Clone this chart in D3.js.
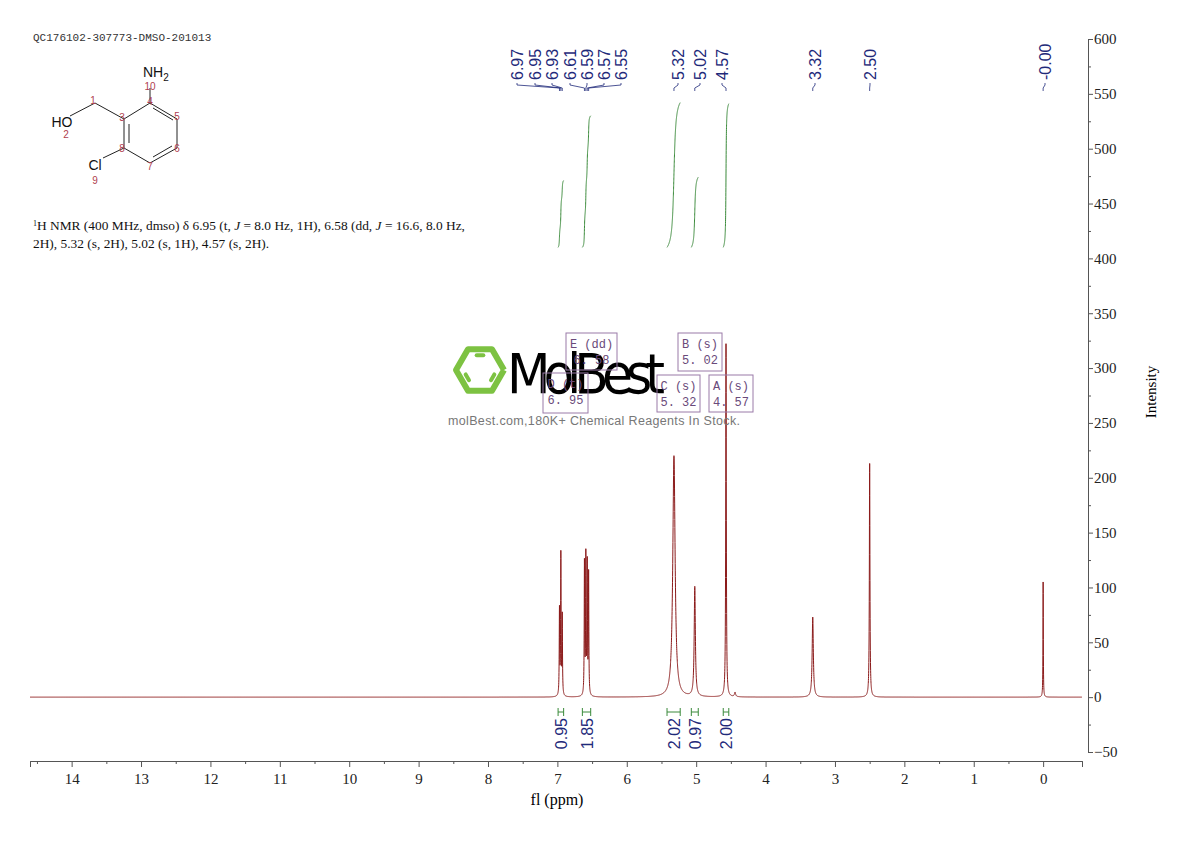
<!DOCTYPE html>
<html><head><meta charset="utf-8">
<script src="https://cdn.jsdelivr.net/npm/d3@7"></script>
<style>body{margin:0;background:#fff}svg{display:block}</style>
</head><body><svg id="c" width="1190" height="841"></svg>
<script>
// ---- data ----
const peakPpm   = [6.97,6.95,6.93, 6.61,6.59,6.57,6.55, 5.32, 5.02, 4.57, 4.44, 3.32, 2.50, 0.00];
const peakHeight= [78,128,72, 120,125,118,110, 220, 100, 322, 4, 73, 213, 105];
const peakWidth = [0.004,0.004,0.004, 0.004,0.004,0.004,0.004, 0.02, 0.01, 0.005, 0.01, 0.01, 0.005, 0.003];
const shiftLabels = ["6.97","6.95","6.93","6.61","6.59","6.57","6.55","5.32","5.02","4.57","3.32","2.50","-0.00"];
const shiftValues = [6.97,6.95,6.93,6.61,6.59,6.57,6.55,5.32,5.02,4.57,3.32,2.50,0.00];
const integFrom = [6.99,6.64,5.42,5.07,4.61];
const integTo   = [6.91,6.52,5.23,4.97,4.53];
const integTop  = [471,530,542,474,541];
const integLabels = ["0.95","1.85","2.02","0.97","2.00"];
const boxNames = ["E (dd)","D (t)","B (s)","C (s)","A (s)"];
const boxShifts= ["6.58","6.95","5.02","5.32","4.57"];
const xTicks = d3.range(0,15);
const yTicks = d3.range(-50,601,50);

const svg = d3.select("#c");
const x = d3.scaleLinear().domain([14.6,-0.56]).range([30,1082]);
const y = d3.scaleLinear().domain([-50,600]).range([752,39]);

function spec(p){let s=0;for(let i=0;i<peakPpm.length;i++){const d=(p-peakPpm[i])/peakWidth[i];s+=peakHeight[i]/(1+d*d);}return s;}
const grid=d3.range(14.6,-0.56,-0.001);
const line=d3.line().x(p=>x(p)).y(p=>y(spec(p)));
svg.append("path").attr("d",line(grid)).attr("fill","none").attr("stroke","#8b1a1a").attr("stroke-width",1);

// integrals
const green="#3a8a3a";
integFrom.forEach((a,i)=>{
  const b=integTo[i]; const pts=d3.range(a,b,-0.0005); let c=0; const cum=pts.map(p=>c+=spec(p));
  const tot=c; const yi=d3.scaleLinear().domain([0,tot]).range([y(410),y(integTop[i])]);
  svg.append("path").attr("d",d3.line().x((p,k)=>x(p)).y((p,k)=>yi(cum[k]))(pts)).attr("fill","none").attr("stroke",green).attr("stroke-width",1);
  const xa=x(a),xb=x(b),yb=712;
  svg.append("path").attr("d",`M${xa},${yb-4}V${yb+4}M${xa},${yb}H${xb}M${xb},${yb-4}V${yb+4}`).attr("stroke",green).attr("fill","none");
  const cx=(xa+xb)/2;
  svg.append("text").attr("transform",`translate(${cx+6},718) rotate(-90)`).attr("text-anchor","end")
   .attr("font-family","Liberation Sans, Arial").attr("font-size",16).attr("fill","#1f2a7a").text(integLabels[i]);
});

// axes
const xa=svg.append("g").attr("transform","translate(0,761)").call(d3.axisBottom(x).tickValues(xTicks).tickSize(6).tickFormat(d3.format("d")));
svg.append("g").attr("transform","translate(0,761)").call(d3.axisBottom(x).tickValues(d3.range(0.5,14.6,1)).tickSize(3).tickFormat(""));
const ya=svg.append("g").attr("transform","translate(1088,0)").call(d3.axisRight(y).tickValues(yTicks).tickSize(5).tickFormat(d3.format("d")));
svg.append("g").attr("transform","translate(1088,0)").call(d3.axisRight(y).tickValues(d3.range(-25,600,50)).tickSize(3).tickFormat(""));
svg.selectAll(".domain").attr("stroke","#555");
svg.selectAll(".tick line").attr("stroke","#555");
svg.selectAll(".tick text").attr("font-family","Liberation Serif, Times New Roman").attr("font-size",15).attr("fill","#222");
ya.selectAll(".tick text").attr("x",6);
xa.selectAll(".tick text").attr("dy","0.9em");
svg.append("text").attr("x",557).attr("y",805).attr("text-anchor","middle").attr("font-family","Liberation Serif").attr("font-size",16).text("fl (ppm)");
svg.append("text").attr("transform","translate(1156,392) rotate(-90)").attr("text-anchor","middle").attr("font-family","Liberation Serif").attr("font-size",15).text("Intensity");

// peak labels
const labX=[517,535,552,570,587,604,621,678,700,722,815,870,1045];
shiftLabels.forEach((t,i)=>{
  const lx=labX[i], px=x(shiftValues[i]);
  svg.append("text").attr("transform",`translate(${lx+6},80) rotate(-90)`).attr("font-family","Liberation Sans, Arial").attr("font-size",16).attr("fill","#1f2a7a").text(t);
  svg.append("path").attr("d",`M${lx},83V85L${px},88V91`).attr("fill","none").attr("stroke","#1f2a7a").attr("stroke-width",0.8);
});

// watermark
const wm=svg.append("g");
const hx=480,hy=370,R=24;
wm.append("path").attr("d",d3.line()(d3.range(7).map(k=>[hx+R*Math.cos(Math.PI/3*k),hy+R*Math.sin(Math.PI/3*k)]))).attr("fill","none").attr("stroke","#7dc242").attr("stroke-width",6).attr("stroke-linejoin","round");
[[0,1],[2,3],[4,5]].forEach(([a,b])=>{const r=15;wm.append("line").attr("x1",hx+r*Math.cos(Math.PI/3*a+0.3)).attr("y1",hy+r*Math.sin(Math.PI/3*a+0.3)).attr("x2",hx+r*Math.cos(Math.PI/3*b-0.3)).attr("y2",hy+r*Math.sin(Math.PI/3*b-0.3)).attr("stroke","#7dc242").attr("stroke-width",4).attr("stroke-linecap","round");});
wm.append("text").attr("x",507).attr("y",393).attr("font-family","DejaVu Sans Condensed, DejaVu Sans").attr("font-size",56).attr("textLength",158).attr("fill","#000").text("MolBest");
wm.append("text").attr("x",448).attr("y",425).attr("font-family","Liberation Sans").attr("font-size",12.5).attr("textLength",292).attr("fill","#777").text("molBest.com,180K+ Chemical Reagents In Stock.");

// multiplet boxes
const boxes=[[566,333,51,37],[543,373,45,40],[678,333,44,38],[657,375,43,37],[709,375,44,37]];
boxes.forEach((b,i)=>{
  svg.append("rect").attr("x",b[0]).attr("y",b[1]).attr("width",b[2]).attr("height",b[3]).attr("fill","none").attr("stroke","#9a7aa8");
  const tx=b[0]+b[2]/2;
  svg.append("text").attr("x",tx).attr("y",b[1]+15).attr("text-anchor","middle").attr("font-family","Liberation Mono").attr("font-size",12).attr("fill","#6a4a7a").text(boxNames[i]);
  svg.append("text").attr("x",tx).attr("y",b[1]+31).attr("text-anchor","middle").attr("font-family","Liberation Mono").attr("font-size",12).attr("fill","#6a4a7a").text(boxShifts[i].replace(".",". "));
});

// header text
svg.append("text").attr("x",33).attr("y",41).attr("font-family","Liberation Mono").attr("font-size",11).attr("fill","#333").text("QC176102-307773-DMSO-201013");
const nt=svg.append("g").attr("font-family","Liberation Serif").attr("font-size",13.4).attr("fill","#111");
const t1=nt.append("text").attr("x",33).attr("y",230);
t1.append("tspan").attr("font-size",8).attr("dy",-4).text("1");
t1.append("tspan").attr("dy",4).text("H NMR (400 MHz, dmso) δ 6.95 (t, ");
t1.append("tspan").attr("font-style","italic").text("J");
t1.append("tspan").text(" = 8.0 Hz, 1H), 6.58 (dd, ");
t1.append("tspan").attr("font-style","italic").text("J");
t1.append("tspan").text(" = 16.6, 8.0 Hz,");
nt.append("text").attr("x",33).attr("y",248).text("2H), 5.32 (s, 2H), 5.02 (s, 1H), 4.57 (s, 2H).");

// structure
const st=svg.append("g").attr("stroke","#222").attr("stroke-width",1).attr("fill","none");
const P={C1:[95,103],C3:[124,119],C4:[150,103],C5:[177,119],C6:[177,148],C7:[150,163],C8:[124,148]};
const seg=(a,b)=>st.append("line").attr("x1",a[0]).attr("y1",a[1]).attr("x2",b[0]).attr("y2",b[1]);
seg([70,116],P.C1);seg(P.C1,P.C3);seg(P.C3,P.C4);seg(P.C4,P.C5);seg(P.C5,P.C6);seg(P.C6,P.C7);seg(P.C7,P.C8);seg(P.C8,P.C3);
seg([153,108],[173,120]);seg([172,146],[153,157]);seg([129,124],[129,143]);
seg(P.C8,[103,158]);seg(P.C4,[150,88]);
const lab=(t,xx,yy,c,s)=>svg.append("text").attr("x",xx).attr("y",yy).attr("text-anchor","middle").attr("font-family","Liberation Sans").attr("font-size",s).attr("fill",c).text(t);
lab("HO",62,127,"#111",14);lab("Cl",95,170,"#111",14);
const nh=svg.append("text").attr("x",143).attr("y",77).attr("font-family","Liberation Sans").attr("font-size",14).attr("fill","#111");
nh.append("tspan").text("NH");nh.append("tspan").attr("font-size",10).attr("dy",4).text("2");
const red="#b04050";
lab("10",150,90,red,10);lab("1",93,104,red,10);lab("2",66,138,red,10);lab("3",122,121,red,10);lab("4",150,105,red,10);
lab("5",177,120,red,10);lab("6",177,152,red,10);lab("7",150,170,red,10);lab("8",122,152,red,10);lab("9",95,184,red,10);
</script></body></html>
